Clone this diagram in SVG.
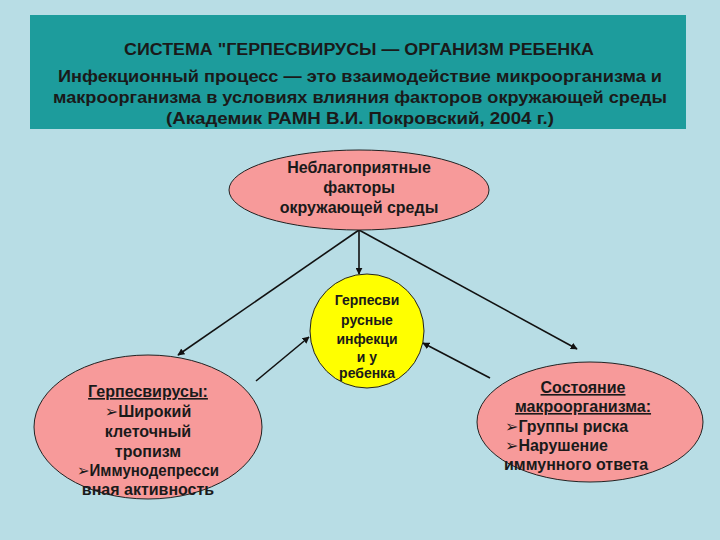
<svg xmlns="http://www.w3.org/2000/svg" width="720" height="540" viewBox="0 0 720 540">
<defs>
<marker id="ah" viewBox="0 0 10 10" refX="9" refY="5" markerWidth="7" markerHeight="7" markerUnits="userSpaceOnUse" orient="auto">
<path d="M0,0 L10,5 L0,10 z" fill="#111"/>
</marker>
<style>
text{font-family:"Liberation Sans",Arial,"DejaVu Sans",sans-serif;font-weight:bold;fill:#1a1a1a;text-anchor:middle}
.hd{font-size:16px}
.nd{font-size:16px}
.sm{font-size:14px}
.el{fill:#f79a9a;stroke:#222;stroke-width:1}
.cn line{stroke:#111;stroke-width:1.6;marker-end:url(#ah)}
.u{text-decoration:underline}
</style>
</defs>
<rect x="0" y="0" width="720" height="540" fill="#b8dde5"/>
<g id="header">
<rect x="30" y="15" width="656" height="114" fill="#1d9c9c"/>
<text x="359" y="55" class="hd" font-size="15" textLength="470" lengthAdjust="spacingAndGlyphs">СИСТЕМА "ГЕРПЕСВИРУСЫ — ОРГАНИЗМ РЕБЕНКА</text>
<text x="360" y="82" class="hd" textLength="604" lengthAdjust="spacingAndGlyphs">Инфекционный процесс — это взаимодействие микроорганизма и</text>
<text x="360" y="103" class="hd" textLength="614" lengthAdjust="spacingAndGlyphs">макроорганизма в условиях влияния факторов окружающей среды</text>
<text x="360" y="124" class="hd" textLength="388" lengthAdjust="spacingAndGlyphs">(Академик РАМН  В.И. Покровский, 2004 г.)</text>
</g>
<g class="cn" id="connectors">
<line x1="359" y1="230" x2="359" y2="274"/>
<line x1="359" y1="230" x2="178" y2="355"/>
<line x1="359" y1="230" x2="577" y2="349"/>
<line x1="256" y1="381" x2="309" y2="337"/>
<line x1="490" y1="378" x2="423" y2="343"/>
</g>
<g id="factors">
<ellipse cx="359" cy="190" rx="130" ry="40" class="el"/>
<text x="359" y="173" class="nd" font-size="15">Неблагоприятные</text>
<text x="359" y="193" class="nd" font-size="15">факторы</text>
<text x="359" y="213" class="nd" font-size="15">окружающей среды</text>
</g>
<g id="infection">
<circle cx="367" cy="331" r="57" fill="#ffff00" stroke="#222" stroke-width="1"/>
<text x="367" y="305" class="sm">Герпесви</text>
<text x="367" y="325" class="sm">русные</text>
<text x="367" y="344" class="sm">инфекци</text>
<text x="367" y="362" class="sm">и у</text>
<text x="367" y="378" class="sm" font-size="13">ребенка</text>
</g>
<g id="viruses">
<ellipse cx="148" cy="427" rx="114" ry="72" class="el"/>
<text x="148" y="397" class="nd u">Герпесвирусы:</text>
<text x="148" y="417" class="nd">➢Широкий</text>
<text x="148" y="437" class="nd">клеточный</text>
<text x="148" y="457" class="nd">тропизм</text>
<text x="148" y="476" class="nd" textLength="142" lengthAdjust="spacingAndGlyphs">➢Иммунодепресси</text>
<text x="148" y="495" class="nd">вная активность</text>
</g>
<g id="host">
<ellipse cx="590" cy="422" rx="113" ry="60" class="el"/>
<text x="583" y="393" class="nd u">Состояние</text>
<text x="583" y="412" class="nd u">макроорганизма:</text>
<text x="505" y="432" class="nd" style="text-anchor:start">➢Группы риска</text>
<text x="505" y="451" class="nd" style="text-anchor:start">➢Нарушение</text>
<text x="504" y="470" class="nd" style="text-anchor:start">иммунного ответа</text>
</g>
</svg>
